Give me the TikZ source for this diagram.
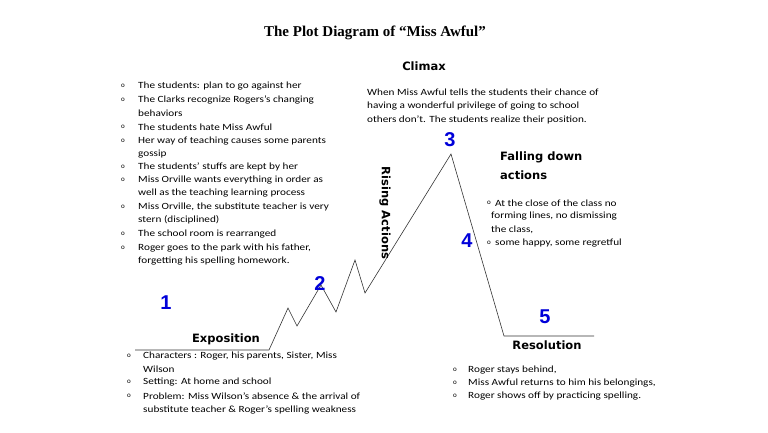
\documentclass[tikz,border=0pt]{standalone}
\usepackage{fontspec}
\setmainfont{Carlito}
\newfontfamily\titlefont{Liberation Serif}
\newfontfamily\numfont{Liberation Sans}
\newfontfamily\headfont{DejaVu Sans}
\begin{document}
\begin{tikzpicture}[x=1pt,y=-1pt,
  txt/.style={anchor=west,inner sep=0pt,xscale=1.18,transform shape,font=\fontsize{9.5}{10}\selectfont},
  bul/.style={anchor=center,inner sep=0pt,font=\fontsize{7}{7}\selectfont},
  head/.style={inner sep=0pt,font=\headfont\fontsize{11.5}{12}\selectfont\bfseries},
  num/.style={inner sep=0pt,text=blue!85!black,font=\numfont\fontsize{20}{20}\selectfont\bfseries}]
\useasboundingbox (0,0) rectangle (768,433);
\node[inner sep=0pt,font=\titlefont\fontsize{15}{15}\selectfont\bfseries] (title) at (375,33) {The Plot Diagram of “Miss Awful”};
\draw[line width=0.6pt,black!80]
  (135,350) coordinate (a) -- (269,350) -- (288,308) -- (297,326) -- (321,285) -- (336,312) -- (355,260) -- (365,293) -- (451,154) -- (504,336) -- (594,336) coordinate (b);
\node[head] (climax) at (424,66) {Climax};
\foreach \y/\t [count=\i] in {92/When Miss Awful tells the students their chance of,106/having a wonderful privilege of going to school,,120/others don’t. The students realize their position.}
  \node[txt] (c\i) at (367,\y) {\t};
\foreach \y/\t [count=\i] in {86/The students: plan to go against her,100/The Clarks recognize Rogers’s changing,113/behaviors,127/ The students hate Miss Awful,141/ Her way of teaching causes some parents,154/gossip,167/ The students’  stuffs are kept by her,180/ Miss Orville wants everything in order as,193/well as the teaching learning process,207/ Miss Orville{,} the substitute teacher is very,220/stern (disciplined),234/ The school room is rearranged,248/ Roger goes to the park with his father{,},261/forgetting his spelling homework.}
  \node[txt] (l\i) at (138,\y) {\t};
\foreach \y [count=\i] in {86,100,127,141,167,180,207,234,248}
  \node[bul] (lb\i) at (123,\y) {o};
\node[head,rotate=-90] (rising) at (385,213) {Rising Actions};
\node[head,anchor=west] (fall1) at (500,157) {Falling down};
\node[head,anchor=west] (fall2) at (500,175) {actions};
\foreach \y/\t [count=\i] in {203/At the close of the class no,216/forming lines{,} no dismissing,230/the class{,},243/some happy{,} some regretful}
  \node[txt] (r\i) at (\ifnum\i=1 495\else\ifnum\i=4 495\else 491\fi\fi,\y) {\t};
\node[bul] (rb1) at (489,203) {o};
\node[bul] (rb2) at (489,243) {o};
\node[num] (n1) at (166,303) {1};
\node[num] (n2) at (320,284) {2};
\node[num] (n3) at (450,140) {3};
\node[num] (n4) at (467,241) {4};
\node[num] (n5) at (545,317) {5};
\node[head] (expo) at (226,339) {Exposition};
\node[head] (reso) at (547,345) {Resolution};
\foreach \y/\t [count=\i] in {356/Characters : Roger{,} his parents{,} Sister{,} Miss,369/Wilson,382/Setting: At home and school,396/Problem: Miss Wilson’s absence \& the arrival of,410/substitute teacher \& Roger’s spelling weakness}
  \node[txt] (bl\i) at (143,\y) {\t};
\foreach \y [count=\i] in {356,382,396}
  \node[bul] (blb\i) at (129,\y) {o};
\foreach \y/\t [count=\i] in {370/Roger stays behind{,},383/Miss Awful returns to him his belongings{,},396/Roger shows off  by practicing spelling.}
  {\node[txt] (br\i) at (468,\y) {\t};
   \node[bul] (brb\i) at (455,\y) {o};}
\end{tikzpicture}
\end{document}
